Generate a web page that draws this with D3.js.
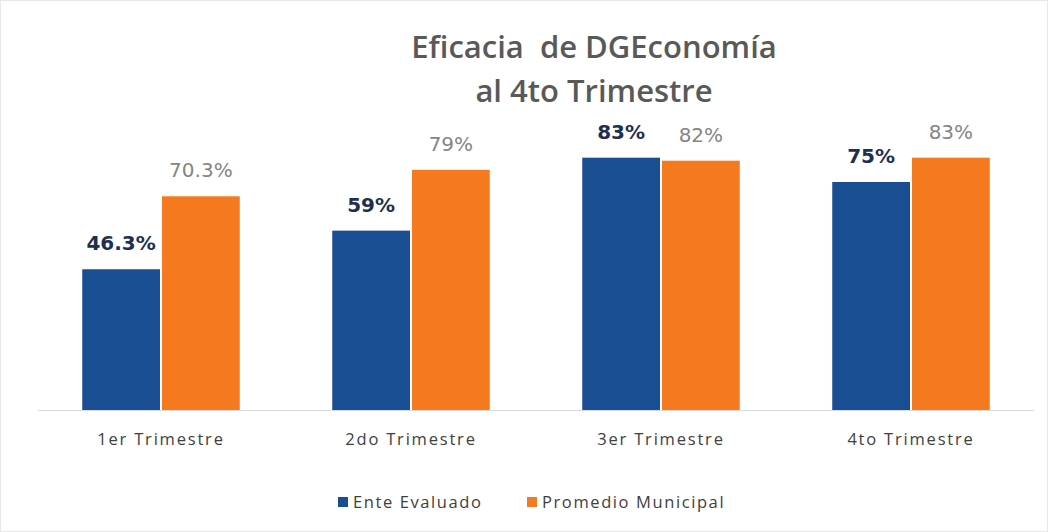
<!DOCTYPE html>
<html><head><meta charset="utf-8">
<script src="https://cdn.jsdelivr.net/npm/d3@7"></script>
<style>body{margin:0;background:#fff}</style>
</head><body>
<svg id="c" width="1048" height="532"></svg>
<script>
const categories = ["1er Trimestre","2do Trimestre","3er Trimestre","4to Trimestre"];
const seriesNames = ["Ente Evaluado","Promedio Municipal"];
const enteValues = [46.3, 59, 83, 75];
const promedioValues = [70.3, 79, 82, 83];
const enteLabels = ["46.3%","59%","83%","75%"];
const promedioLabels = ["70.3%","79%","82%","83%"];
const colors = ["#1a4e93","#f57a1f"];

const svg = d3.select("#c");
svg.append("rect").attr("x",0.5).attr("y",0.5).attr("width",1047).attr("height",531)
  .attr("fill","#fff").attr("stroke","#e8e8e8");

const x = d3.scaleBand().domain(categories).range([36,1036]).paddingInner(0.37).paddingOuter(0.185);
const y = d3.scaleLinear().domain([0,100]).range([410,106]);
const xs = d3.scaleBand().domain(seriesNames).range([0,x.bandwidth()]).paddingInner(0.025);

// axis
const ax = svg.append("g").attr("transform","translate(0,410)")
  .call(d3.axisBottom(x).tickSize(0).tickPadding(23));
ax.select(".domain").attr("stroke","#d9d9d9").attr("stroke-width",1.2)
  .attr("d","M38,0.5H1034");
ax.selectAll("text").attr("font-family","'Open Sans', sans-serif").attr("font-size",16.5)
  .attr("letter-spacing",1.8).attr("fill","#404040");

const data = categories.map((c,i)=>({c, vals:[enteValues[i],promedioValues[i]], labs:[enteLabels[i],promedioLabels[i]]}));
const g = svg.selectAll("g.cat").data(data).join("g").attr("class","cat")
  .attr("transform",d=>`translate(${x(d.c)},0)`);
g.selectAll("rect").data(d=>d.vals.map((v,j)=>({v,j}))).join("rect")
  .attr("x",d=>xs(seriesNames[d.j])).attr("width",xs.bandwidth())
  .attr("y",d=>y(d.v)).attr("height",d=>y(0)-y(d.v))
  .attr("fill",d=>colors[d.j]);
g.selectAll("text.v").data(d=>d.vals.map((v,j)=>({v,j,l:d.labs[j]}))).join("text")
  .attr("class","v")
  .attr("x",d=>xs(seriesNames[d.j])+xs.bandwidth()/2)
  .attr("y",d=>y(d.v)-19)
  .attr("text-anchor","middle")
  .attr("font-family","'DejaVu Sans', sans-serif")
  .attr("font-size",20)
  .attr("font-weight",d=>d.j===0?"bold":"normal")
  .attr("fill",d=>d.j===0?"#1f2f4f":"#858585")
  .text(d=>d.l);

// title
const titleLines = ["Eficacia  de DGEconomía","al 4to Trimestre"];
svg.selectAll("text.title").data(titleLines).join("text").attr("class","title")
  .attr("x",594).attr("y",(d,i)=>58+i*44).attr("text-anchor","middle")
  .attr("xml:space","preserve")
  .attr("font-family","'Open Sans', sans-serif").attr("font-size",31).attr("font-weight",600)
  .attr("fill","#595959").text(d=>d);

// legend
const legX = [338, 527];
const lg = svg.selectAll("g.leg").data(seriesNames).join("g").attr("class","leg")
  .attr("transform",(d,i)=>`translate(${legX[i]},508)`);
lg.append("rect").attr("x",0).attr("y",-11).attr("width",10).attr("height",10).attr("fill",(d,i)=>colors[i]);
lg.append("text").attr("x",15).attr("y",0).attr("font-family","'Open Sans', sans-serif")
  .attr("font-size",16.5).attr("letter-spacing",1.6).attr("fill","#404040").text(d=>d);
</script>
</body></html>
